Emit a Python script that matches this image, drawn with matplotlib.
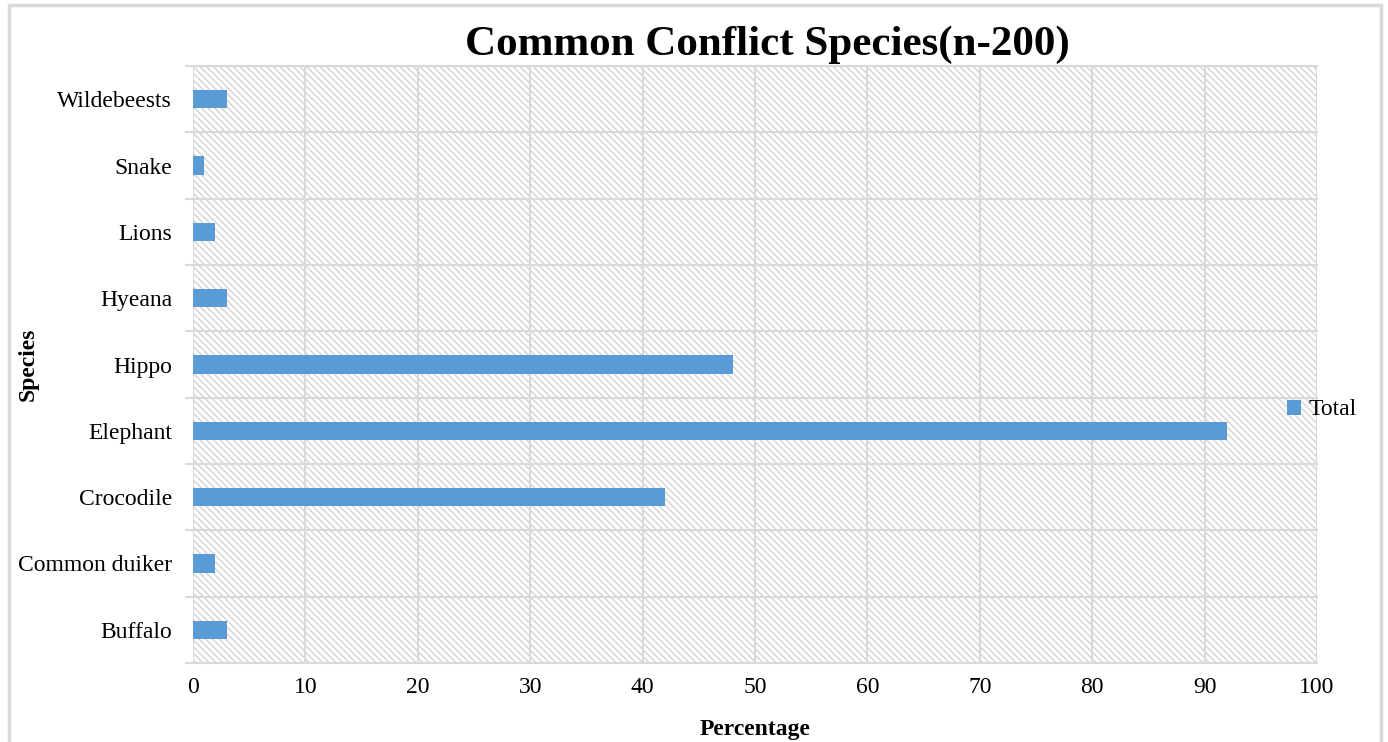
import matplotlib
matplotlib.use("Agg")
import matplotlib.pyplot as plt
from matplotlib.patches import Rectangle

categories = ["Buffalo", "Common duiker", "Crocodile", "Elephant", "Hippo",
              "Hyeana", "Lions", "Snake", "Wildebeests"]
values = [3, 2, 42, 92, 48, 3, 2, 1, 3]
xticks = list(range(0, 101, 10))

plt.rcParams['font.family'] = ['Liberation Serif', 'DejaVu Serif']
plt.rcParams['hatch.linewidth'] = 1.0

fig = plt.figure(figsize=(13.88, 7.42), dpi=100)
ax = fig.add_axes([0.139, 0.1065, 0.8099, 0.8045])

# figure border
fig.patches.append(Rectangle((0.0065, -0.05), 0.9885, 1.043, transform=fig.transFigure,
                             fill=False, edgecolor='#d9d9d9', linewidth=2.5, zorder=0))

ax.set_xlim(0, 100)
ax.set_ylim(-0.5, len(categories) - 0.5)

# hatched background
ax.add_patch(Rectangle((0, 0), 1, 1, transform=ax.transAxes, facecolor='white',
                       edgecolor='#d2d2d2', hatch='\\' * 5, linewidth=0, zorder=0))

# grid
for x in xticks:
    ax.axvline(x, color='#d9d9d9', linewidth=1.5, zorder=1)
for i in range(len(categories) + 1):
    ax.axhline(i - 0.5, xmin=-0.0065, xmax=1, color='#d9d9d9', linewidth=1.5,
               zorder=1, clip_on=False)

bars = ax.barh(range(len(categories)), values, height=0.28, color='#5B9BD5',
               zorder=3, label='Total')

ax.set_yticks(range(len(categories)))
ax.set_yticklabels(categories, fontsize=17)
ax.set_xticks(xticks)
ax.set_xticklabels([str(x) for x in xticks], fontsize=17)
ax.tick_params(axis='both', length=0)
ax.tick_params(axis='y', pad=15)
ax.tick_params(axis='x', pad=10)
for s in ax.spines.values():
    s.set_visible(False)

ax.set_xlabel("Percentage", fontsize=17, fontweight='bold')
ax.set_ylabel("Species", fontsize=17, fontweight='bold')
ax.yaxis.set_label_coords(-0.137, 0.5)
ax.xaxis.set_label_coords(0.5, -0.094)

fig.text(0.553, 0.939, "Common Conflict Species(n-200)", fontsize=31,
         fontweight='bold', ha='center', va='center')

leg = ax.legend(loc='center left', bbox_to_anchor=(0.965, 0.424), frameon=False,
                fontsize=17, handlelength=0.6, handleheight=0.6, handletextpad=0.3,
                borderaxespad=0)

fig.savefig("out.png", dpi=100)
